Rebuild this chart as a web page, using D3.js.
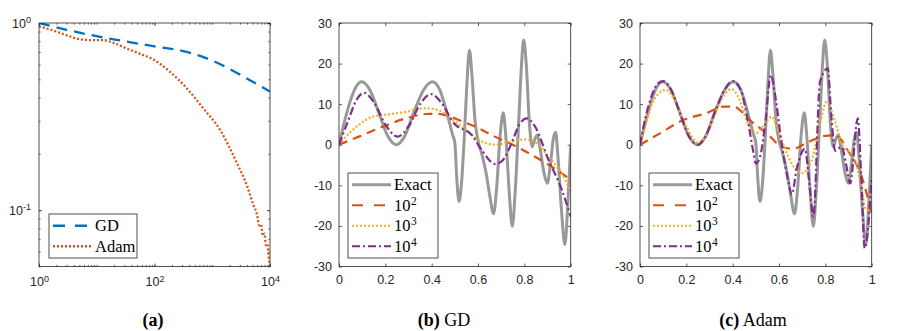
<!DOCTYPE html>
<html>
<head>
<meta charset="utf-8">
<script src="https://cdn.jsdelivr.net/npm/d3@7"></script>
<style>
  body { margin: 0; background: #fff; }
  .tick text { font-family: "Liberation Sans", Arial, sans-serif; font-size: 12.5px; fill: #262626; }
  .tick line { stroke: #262626; stroke-width: 0.75; }
  .frame { fill: none; stroke: #262626; stroke-width: 0.8; }
  .legend text { font-family: "Liberation Serif", "DejaVu Serif", serif; font-size: 16.5px; fill: #000; }
  .caption { font-family: "Liberation Serif", "DejaVu Serif", serif; font-size: 18px; fill: #000; }
</style>
</head>
<body>
<svg id="fig" width="901" height="331"></svg>
<script>
// Three panels: (a) loss curves on log-log, (b) GD fits, (c) Adam fits

// ---- panel (a) data
var gdIter   = [1, 3, 10, 30, 100, 300, 1000, 3000, 10000]
  , gdLoss   = [1.0, 0.92, 0.85, 0.80, 0.75, 0.71, 0.63, 0.53, 0.43]
  , adamIter = [1, 2, 3, 5, 8, 13, 20, 37, 60, 94, 183, 357, 700, 1350, 2640, 4000,
                5130, 6000, 6500, 7000, 7500, 8000, 8500, 9000, 9500, 10000]
  , adamLoss = [0.96, 0.90, 0.86, 0.82, 0.81, 0.81, 0.78, 0.72, 0.68, 0.64, 0.55, 0.45,
                0.35, 0.27, 0.18, 0.135, 0.107, 0.094, 0.083, 0.084, 0.073, 0.075, 0.065,
                0.066, 0.056, 0.05]
  ;

// ---- panels (b), (c) data, [x, y]
var exactPts = [[0,0],[0.025,6],[0.05,11],[0.075,14.4],[0.098,15.5],[0.135,13.3],[0.17,8.2],
  [0.21,2.2],[0.247,0],[0.285,2.3],[0.325,8.3],[0.365,13.5],[0.403,15.5],[0.435,13.5],
  [0.465,8],[0.49,2.5],[0.5,0.5],[0.508,-8],[0.518,-14],[0.528,-10],[0.54,1],[0.552,15],
  [0.563,23.3],[0.574,17],[0.587,6],[0.6,1],[0.615,-2],[0.635,-7],[0.652,-13],[0.667,-17],
  [0.68,-11],[0.695,2],[0.709,7.9],[0.72,2],[0.735,-12],[0.748,-20.1],[0.76,-12],[0.775,5],
  [0.787,19],[0.797,25.8],[0.808,20],[0.822,5],[0.834,-0.5],[0.846,1.5],[0.856,2.4],
  [0.868,-1],[0.885,-7],[0.899,-9.5],[0.912,-5],[0.925,1.5],[0.935,3.1],[0.945,-3],
  [0.96,-16],[0.975,-24.6],[0.988,-14],[1,0]];

var gd100 = [[0,0],[0.086,2],[0.187,4.4],[0.288,6.5],[0.388,7.6],[0.43,7.6],[0.475,7],
  [0.53,5.8],[0.587,4.5],[0.673,2],[0.75,0],[0.832,-2.5],[0.918,-5.4],[1,-8.6]];
var gd1000 = [[0,0],[0.043,2.8],[0.086,4.9],[0.144,6.9],[0.216,7.5],[0.288,8.1],[0.374,9],
  [0.43,8.5],[0.495,6],[0.558,3.2],[0.616,0.8],[0.673,0],[0.745,0.8],[0.803,1.3],
  [0.853,0.4],[0.904,-3],[0.961,-7],[1,-11.5]];
var gd10000 = [[0,0],[0.04,6],[0.075,11],[0.108,12.8],[0.15,10.5],[0.2,5],[0.252,2],
  [0.3,4.5],[0.35,10],[0.396,12.5],[0.44,10.5],[0.496,5.3],[0.573,2.4],[0.616,-1.3],
  [0.673,-4.7],[0.702,-4.1],[0.745,0.4],[0.774,4.5],[0.81,6.5],[0.846,4.5],[0.904,-3.7],
  [0.961,-11],[1,-17.7]];

var adam100 = [[0,0],[0.086,2.8],[0.187,6.1],[0.288,7.8],[0.36,9.4],[0.403,9.4],[0.475,6],
  [0.555,2.4],[0.612,-0.5],[0.66,-1],[0.72,0.5],[0.8,2.2],[0.845,2.3],[0.9,-1.7],
  [0.957,-7.9],[1,-17]];
var adam1000 = [[0,0],[0.03,6],[0.06,11],[0.11,13.5],[0.15,11],[0.2,4.5],[0.25,0.5],
  [0.3,4],[0.35,11],[0.395,13.7],[0.43,11],[0.46,6],[0.5,2.8],[0.53,4.5],[0.568,6.9],
  [0.6,3],[0.64,-3],[0.698,-7],[0.74,-4],[0.784,6.9],[0.805,10.6],[0.84,6],[0.87,0.4],
  [0.928,-3.7],[0.96,-12],[0.975,-16],[1,-15]];
var adam10000 = [[0,0],[0.025,7],[0.05,12],[0.075,15],[0.1,15.7],[0.135,13.5],[0.17,8.2],
  [0.21,2.2],[0.25,0],[0.285,2.3],[0.325,8.3],[0.365,13.5],[0.4,15.7],[0.435,13.5],
  [0.465,6],[0.49,-2],[0.5,-4.6],[0.518,-3],[0.54,5],[0.565,17.2],[0.582,12.7],[0.612,0],
  [0.64,-9],[0.655,-12.3],[0.676,-6],[0.712,-1],[0.73,-9],[0.748,-17.7],[0.777,15.6],
  [0.81,18.8],[0.827,6],[0.842,-1.5],[0.87,-0.5],[0.89,-5],[0.907,-9.5],[0.94,6.5],
  [0.955,-8],[0.97,-25.5],[1,-7.9]];

var fitTicksX = [0, 0.2, 0.4, 0.6, 0.8, 1]
  , fitTicksY = [-30, -20, -10, 0, 10, 20, 30]
  , logTicksX = [1, 100, 10000]
  , logTicksY = [0.1, 1]
  , captions  = [["(a)", ""], ["(b)", " GD"], ["(c)", " Adam"]]
  ;

var colors = { gd: "#0072BD", adam: "#D95319", yellow: "#EDB120", purple: "#7E2F8E", exact: "#999999" };

var top_ = 23, bottom_ = 266.5
  , tickLen = 3
  , svg = d3.select("#fig");

svg.append("rect").attr("width", 901).attr("height", 331).attr("fill", "#fff");

function minorLog (lo, hi) {
  var out = [];
  for (var e = lo; e < hi; e += 1) {
    for (var k = 1; k < 10; k += 1) { out.push(k * Math.pow(10, e)); }
  }
  out.push(Math.pow(10, hi));
  return out;
}

function supLabels (sel) {
  sel.selectAll(".tick text").each(function (d) {
    var t = d3.select(this);
    t.text("10");
    t.append("tspan").attr("dy", "-0.5em").attr("font-size", "9px")
     .text(Math.round(Math.log10(d)));
  });
}

function frame (g, w, h) {
  g.append("rect").attr("class", "frame").attr("x", 0).attr("y", 0).attr("width", w).attr("height", h);
}

function legend (g, x, y, w, items) {
  var rowH = 20.5, h = items.length * rowH + 3;
  var lg = g.append("g").attr("class", "legend").attr("transform", "translate(" + x + "," + y + ")");
  lg.append("rect").attr("width", w).attr("height", h).attr("fill", "#fff")
    .attr("stroke", "#262626").attr("stroke-width", 0.8);
  items.forEach(function (it, i) {
    var cy = 1.5 + rowH * (i + 0.5);
    lg.append("line").attr("x1", 4).attr("x2", 43).attr("y1", cy).attr("y2", cy)
      .attr("stroke", it.color).attr("stroke-width", it.width)
      .attr("stroke-dasharray", it.dash);
    var t = lg.append("text").attr("x", 46).attr("y", cy + 5.5).text(it.label);
    if (it.sup) {
      // superscript as its own small text, just right of the base
      var bw = t.node().getComputedTextLength();
      lg.append("text").attr("x", 46 + bw + 0.5).attr("y", cy - 0.5)
        .style("font-size", "11.5px").text(it.sup);
    }
  });
}

// ============================================================
// Panel (a)
(function () {
  var x0 = 39, x1 = 270, w = x1 - x0, h = bottom_ - top_;
  var g = svg.append("g").attr("transform", "translate(" + x0 + "," + top_ + ")");
  var x = d3.scaleLog().domain([1, 10000]).range([0, w]);
  var y = d3.scaleLog().domain([0.05, 1]).range([h, 0]);

  g.append("g").attr("transform", "translate(0," + h + ")")
   .call(d3.axisBottom(x).tickValues(minorLog(0, 4)).tickSize(-1.6).tickFormat(""))
   .call(function (s) { s.select(".domain").remove(); });
  g.append("g").call(d3.axisTop(x).tickValues(minorLog(0, 4)).tickSize(-1.6).tickFormat(""))
   .call(function (s) { s.select(".domain").remove(); });
  var ax = g.append("g").attr("transform", "translate(0," + h + ")")
   .call(d3.axisBottom(x).tickValues(logTicksX).tickSize(-tickLen).tickPadding(11))
   .call(function (s) { s.select(".domain").remove(); });
  supLabels(ax);
  g.append("g").call(d3.axisTop(x).tickValues(logTicksX).tickSize(-tickLen).tickFormat(""))
   .call(function (s) { s.select(".domain").remove(); });

  var yMinor = minorLog(-2, 0).filter(function (v) { return v >= 0.05 - 1e-9; });
  g.append("g").call(d3.axisLeft(y).tickValues(yMinor).tickSize(-1.6).tickFormat(""))
   .call(function (s) { s.select(".domain").remove(); });
  g.append("g").attr("transform", "translate(" + w + ",0)")
   .call(d3.axisRight(y).tickValues(yMinor).tickSize(-1.6).tickFormat(""))
   .call(function (s) { s.select(".domain").remove(); });
  var ay = g.append("g").call(d3.axisLeft(y).tickValues(logTicksY).tickSize(-tickLen).tickPadding(8))
   .call(function (s) { s.select(".domain").remove(); });
  supLabels(ay);
  g.append("g").attr("transform", "translate(" + w + ",0)")
   .call(d3.axisRight(y).tickValues(logTicksY).tickSize(-tickLen).tickFormat(""))
   .call(function (s) { s.select(".domain").remove(); });

  var clip = g.append("clipPath").attr("id", "clipA");
  clip.append("rect").attr("width", w).attr("height", h);
  var plot = g.append("g").attr("clip-path", "url(#clipA)");

  var line = d3.line().x(function (d) { return x(d[0]); }).y(function (d) { return y(d[1]); })
               .curve(d3.curveMonotoneX);
  plot.append("path").datum(d3.zip(gdIter, gdLoss)).attr("d", line)
      .attr("fill", "none").attr("stroke", colors.gd).attr("stroke-width", 2.3)
      .attr("stroke-dasharray", "11,7");
  plot.append("path").datum(d3.zip(adamIter, adamLoss)).attr("d", line)
      .attr("fill", "none").attr("stroke", colors.adam).attr("stroke-width", 2.3)
      .attr("stroke-dasharray", "2,2");

  frame(g, w, h);
  legend(g, 10, 191, 88, [
    { label: "GD", color: colors.gd, width: 2.3, dash: "12,10" },
    { label: "Adam", color: colors.adam, width: 2.3, dash: "2,2" }
  ]);
})();

// ============================================================
// Panels (b) and (c)
function fitPanel (x0, id, series) {
  var w = 231.7, h = bottom_ - top_;
  var g = svg.append("g").attr("transform", "translate(" + x0 + "," + top_ + ")");
  var x = d3.scaleLinear().domain([0, 1]).range([0, w]);
  var y = d3.scaleLinear().domain([-30, 30]).range([h, 0]);

  g.append("g").attr("transform", "translate(0," + h + ")")
   .call(d3.axisBottom(x).tickValues(fitTicksX).tickSize(-tickLen).tickPadding(9).tickFormat(d3.format("~g")))
   .call(function (s) { s.select(".domain").remove(); });
  g.append("g").call(d3.axisTop(x).tickValues(fitTicksX).tickSize(-tickLen).tickFormat(""))
   .call(function (s) { s.select(".domain").remove(); });
  g.append("g").call(d3.axisLeft(y).tickValues(fitTicksY).tickSize(-tickLen).tickPadding(7))
   .call(function (s) { s.select(".domain").remove(); });
  g.append("g").attr("transform", "translate(" + w + ",0)")
   .call(d3.axisRight(y).tickValues(fitTicksY).tickSize(-tickLen).tickFormat(""))
   .call(function (s) { s.select(".domain").remove(); });
  g.selectAll(".tick text").text(function () {
    return this.textContent.replace("\u2212", "-");
  });

  var clip = g.append("clipPath").attr("id", id);
  clip.append("rect").attr("width", w).attr("height", h);
  var plot = g.append("g").attr("clip-path", "url(#" + id + ")");

  var line = d3.line().x(function (d) { return x(d[0]); }).y(function (d) { return y(d[1]); })
               .curve(d3.curveMonotoneX);
  series.forEach(function (s) {
    plot.append("path").datum(s.data).attr("d", line)
        .attr("fill", "none").attr("stroke", s.color).attr("stroke-width", s.width)
        .attr("stroke-dasharray", s.dash);
  });

  frame(g, w, h);
  legend(g, 9, 150, 90, [
    { label: "Exact", color: colors.exact, width: 3, dash: null },
    { label: "10", sup: "2", color: colors.adam, width: 2.2, dash: "11,11" },
    { label: "10", sup: "3", color: colors.yellow, width: 2.2, dash: "2,2" },
    { label: "10", sup: "4", color: colors.purple, width: 2.2, dash: "8,3,2,3" }
  ]);
}

fitPanel(339, "clipB", [
  { data: exactPts, color: colors.exact, width: 3, dash: null },
  { data: gd100, color: colors.adam, width: 2.2, dash: "9,6" },
  { data: gd1000, color: colors.yellow, width: 2.2, dash: "2,2" },
  { data: gd10000, color: colors.purple, width: 2.2, dash: "8,3,2,3" }
]);
fitPanel(640, "clipC", [
  { data: exactPts, color: colors.exact, width: 3, dash: null },
  { data: adam100, color: colors.adam, width: 2.2, dash: "9,6" },
  { data: adam1000, color: colors.yellow, width: 2.2, dash: "2,2" },
  { data: adam10000, color: colors.purple, width: 2.2, dash: "8,3,2,3" }
]);

// ============================================================
// Captions
var capX = [153, 444, 753];
captions.forEach(function (c, i) {
  var t = svg.append("text").attr("class", "caption").attr("x", capX[i]).attr("y", 326)
             .attr("text-anchor", "middle");
  t.append("tspan").attr("font-weight", "bold").text(c[0]);
  if (c[1]) { t.append("tspan").text(c[1]); }
});
</script>
</body>
</html>
